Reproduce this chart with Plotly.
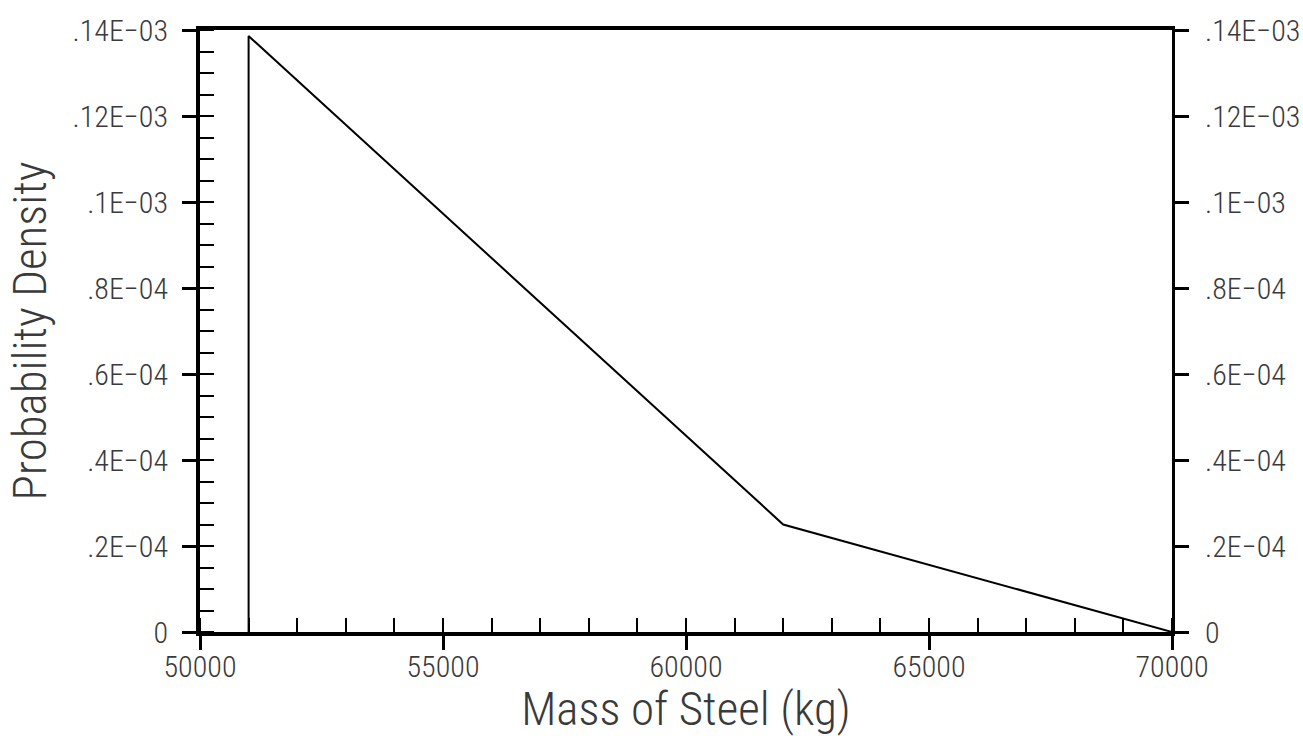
import plotly.graph_objects as go

# Data
mass_kg = [51000, 51000, 62000, 70000]
density = [0.0, 0.1386e-3, 0.025e-3, 0.0]

x_tickvals = [50000, 55000, 60000, 65000, 70000]
x_ticktext = ["50000", "55000", "60000", "65000", "70000"]
y_tickvals = [0.0, 0.02e-3, 0.04e-3, 0.06e-3, 0.08e-3, 0.10e-3, 0.12e-3, 0.14e-3]
y_ticktext = ["0", ".2E\u221204", ".4E\u221204", ".6E\u221204", ".8E\u221204",
              ".1E\u221203", ".12E\u221203", ".14E\u221203"]

FONT = "Roboto Condensed, Roboto, sans-serif"
W = 300
TXT = "#3a3a3a"

fig = go.Figure()
fig.add_trace(go.Scatter(x=mass_kg, y=density, mode="lines",
                         line=dict(color="black", width=2),
                         showlegend=False, hoverinfo="skip"))
# invisible trace for the right axis
fig.add_trace(go.Scatter(x=[mass_kg[0]], y=[density[0]], yaxis="y2", mode="markers",
                         marker=dict(opacity=0), showlegend=False, hoverinfo="skip"))

tickfont = dict(size=30, color=TXT, family=FONT, weight=W)
titlefont = dict(size=47, color=TXT, family=FONT, weight=W)

fig.update_layout(
    width=1303, height=736,
    margin=dict(l=200, r=131, t=30, b=104),
    plot_bgcolor="white", paper_bgcolor="white",
    font=dict(family=FONT, color=TXT, weight=W),
    xaxis=dict(
        range=[50000, 70000], automargin=False,
        showgrid=False, zeroline=False,
        showline=True, linecolor="black", linewidth=4, mirror=True,
        ticks="outside", ticklen=14, tickwidth=3, tickcolor="black",
        tickvals=x_tickvals, ticktext=x_ticktext,
        tickfont=tickfont, ticklabelstandoff=-9,
        minor=dict(ticks="inside", dtick=1000, ticklen=14, tickwidth=1.5,
                   tickcolor="black", showgrid=False),
        title=dict(text="Mass of Steel (kg)", font=titlefont, standoff=2),
    ),
    yaxis=dict(
        range=[0, 0.14e-3], automargin=False,
        showgrid=False, zeroline=False,
        showline=True, linecolor="black", linewidth=4,
        ticks="outside", ticklen=14, tickwidth=2.5, tickcolor="black",
        tickvals=y_tickvals, ticktext=y_ticktext,
        tickfont=tickfont, ticklabelstandoff=8,
        minor=dict(ticks="inside", dtick=0.005e-3, tick0=0, ticklen=14, tickwidth=1.5,
                   tickcolor="black", showgrid=False),
        title=dict(text="Probability Density", font=titlefont, standoff=12),
    ),
    yaxis2=dict(
        range=[0, 0.14e-3], overlaying="y", side="right", matches="y", automargin=False,
        showgrid=False, zeroline=False,
        showline=True, linecolor="black", linewidth=3,
        ticks="outside", ticklen=14, tickwidth=2.5, tickcolor="black",
        tickvals=y_tickvals, ticktext=y_ticktext,
        tickfont=tickfont, ticklabelstandoff=10,
    ),
)

fig.write_html("out.html")
